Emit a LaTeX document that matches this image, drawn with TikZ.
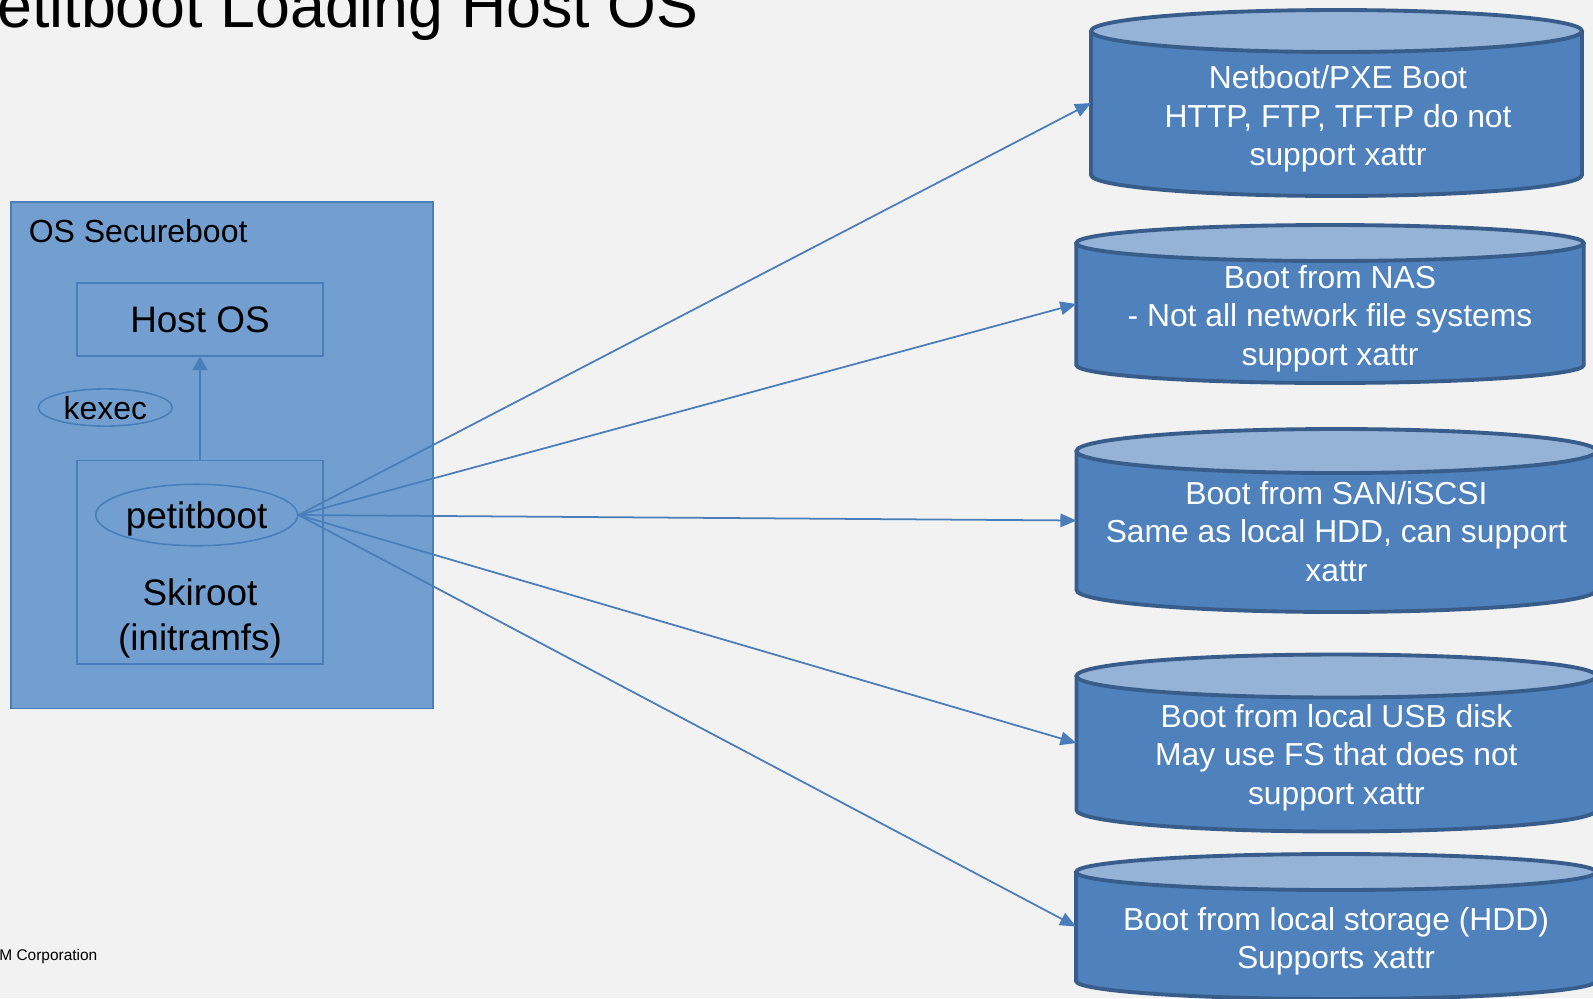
\documentclass[tikz,border=0pt]{standalone}
\usepackage{fontspec}
\setmainfont{Liberation Sans}
\usetikzlibrary{positioning,arrows.meta,shapes.geometric}
\definecolor{bg}{HTML}{F2F2F2}
\definecolor{panefill}{HTML}{729FCF}
\definecolor{edge}{HTML}{4A7EBB}
\definecolor{drumbody}{HTML}{4F81BD}
\definecolor{drumcap}{HTML}{95B3D7}
\definecolor{drumedge}{HTML}{385D8A}
\newcommand{\titlefont}{\fontsize{35.7pt}{40pt}\selectfont}
\newcommand{\bigfont}{\fontsize{21pt}{25.4pt}\selectfont}
\newcommand{\midfont}{\fontsize{18.2pt}{22pt}\selectfont}
\newcommand{\cylfont}{\fontsize{18.1pt}{21.9pt}\selectfont}
\newcommand{\footfont}{\fontsize{8.8pt}{10pt}\selectfont}
\tikzset{
  pane/.style={draw=edge, fill=panefill, line width=0.9pt, inner sep=0pt, outer sep=0pt},
  blk/.style={draw=edge, line width=0.9pt, minimum width=4.93cm, inner sep=0pt},
  oval/.style={ellipse, draw=edge, line width=0.9pt, inner sep=0pt, text depth=0pt},
  drum/.style={rectangle, inner sep=0pt, outer sep=0pt},
  drumtxt/.style={anchor=north, inner sep=0pt, align=center, text=white, font=\cylfont},
  lbl/.style={anchor=base west, inner sep=0pt},
  lnk/.style={draw=edge, line width=1pt, -{Triangle[length=0.32cm, width=0.27cm]}}}
% side of a drum = the node, #2/#3 = radii of its end caps
\newcommand{\drawdrum}[3]{%
  \fill[drumbody] (#1.north west) -- (#1.south west)
    arc[start angle=180, end angle=360, x radius=#2, y radius=#3] -- (#1.north east) -- cycle;
  \draw[drumedge, line width=2.2pt] (#1.north west) -- (#1.south west)
    arc[start angle=180, end angle=360, x radius=#2, y radius=#3] -- (#1.north east);
  \filldraw[fill=drumcap, draw=drumedge, line width=2.2pt] (#1.north) ellipse[x radius=#2, y radius=#3];}

\begin{document}
\begin{tikzpicture}[x=0.02cm, y=-0.02cm]
\clip (0,0) rectangle (1593,998);
\fill[bg] (0,0) rectangle (1593,998);
\node[lbl, font=\titlefont] (ttl) at (-3,27.5) {etitboot Loading Host OS};
\node[lbl, font=\footfont] (corp) at (-1,960.7) {M Corporation};
% secure boot side
\node[pane, minimum width=8.45cm, minimum height=10.13cm] (osb) at (222,455.4) {};
\node[lbl, font=\midfont] (osbl) at (28.5,242.4) {OS Secureboot};
\node[blk, minimum height=1.454cm, font=\bigfont, text depth=0pt] (host) at (200,319.4) {Host OS};
\node[blk, minimum height=4.07cm] (ski) at (200,562.4) {};
\node[anchor=north, inner sep=0pt, align=center, font=\bigfont] (skitxt) at (200,578.3) {Skiroot\\(initramfs)};
\node[oval, minimum width=4.04cm, minimum height=1.23cm, font=\bigfont] (pb) at (196.7,515) {petitboot};
\node[oval, minimum width=2.68cm, minimum height=0.744cm, font=\midfont] (kx) at (105.3,407.5) {kexec};
\draw[lnk, -{Triangle[length=0.27cm, width=0.3cm]}] (ski.north) -- (host.south);
% boot sources
\node[drum, minimum width=9.82cm, minimum height=2.88cm] (d1) at (1336.5,103) {};
\node[drum, minimum width=10.15cm, minimum height=2.44cm] (d2) at (1330,304) {};
\node[drum, minimum width=10.4cm, minimum height=2.78cm] (d3) at (1336.4,520.5) {};
\node[drum, minimum width=10.4cm, minimum height=2.68cm] (d4) at (1336.4,743) {};
\node[drum, minimum width=10.4cm, minimum height=2.18cm] (d5) at (1336,926.5) {};
\drawdrum{d1}{4.91cm}{0.42cm}
\drawdrum{d2}{5.075cm}{0.36cm}
\drawdrum{d3}{5.2cm}{0.44cm}
\drawdrum{d4}{5.2cm}{0.43cm}
\drawdrum{d5}{5.2cm}{0.36cm}
\node[drumtxt] (t1) at (1338,65.4) {Netboot/PXE Boot\\HTTP, FTP, TFTP do not\\support xattr};
\node[drumtxt] (t2) at (1330,265) {Boot from NAS\\- Not all network file systems\\support xattr};
\node[drumtxt] (t3) at (1336.4,480.7) {Boot from SAN/iSCSI\\Same as local HDD, can support\\xattr};
\node[drumtxt] (t4) at (1336.4,704) {Boot from local USB disk\\May use FS that does not\\support xattr};
\node[drumtxt] (t5) at (1336,906.7) {Boot from local storage (HDD)\\Supports xattr};
\foreach \i in {1,...,5}
  \draw[lnk] (pb.east) -- (d\i.west);
\end{tikzpicture}
\end{document}
